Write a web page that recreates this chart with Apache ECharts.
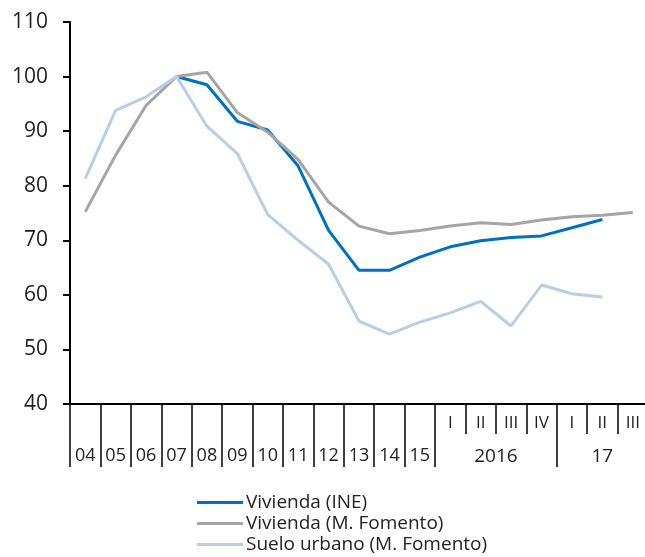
<!DOCTYPE html>
<html>
<head>
<meta charset="utf-8">
<script src="https://cdn.jsdelivr.net/npm/echarts@6/dist/echarts.min.js"></script>
<style>
  html, body { margin: 0; padding: 0; background: #fff; }
  #chart { width: 645px; height: 557px; }
</style>
</head>
<body>
<div id="chart"></div>
<script>
// categories: years 04-15, then quarters of 2016 and 2017
const categories = ["04", "05", "06", "07", "08", "09", "10", "11", "12", "13", "14", "15",
  "2016-I", "2016-II", "2016-III", "2016-IV", "2017-I", "2017-II", "2017-III"];
const tickLabels = ["04", "05", "06", "07", "08", "09", "10", "11", "12", "13", "14", "15",
  "I", "II", "III", "IV", "I", "II", "III"];
const yearCount = 12; // first 12 categories are whole years
const groupLabels = ["2016", "17"];
const groupStart = [12, 16];
const groupEnd = [16, 19];

const viviendaINE = [null, null, null, 100, 98.5, 91.8, 90.2, 83.6, 71.8, 64.5, 64.5, 66.9,
  68.8, 69.9, 70.5, 70.8, 72.3, 73.8, null];
const viviendaFomento = [75.2, 85.6, 94.7, 100, 100.8, 93.4, 89.8, 84.8, 77.0, 72.6, 71.2, 71.8,
  72.6, 73.2, 72.9, 73.7, 74.3, 74.6, 75.1];
const sueloUrbano = [81.3, 93.8, 96.3, 100, 90.9, 85.9, 74.7, 70.0, 65.6, 55.2, 52.8, 55.0,
  56.7, 58.8, 54.3, 61.8, 60.2, 59.6, null];

const yTicks = { min: 40, max: 110, interval: 10 };

const fontFam = "'Open Sans', 'DejaVu Sans', sans-serif";
const txtColor = "#222";

let myChart = echarts.init(document.getElementById("chart"));

// long separators at year starts and group starts, short ones between quarters
const isLongTick = (i) => i <= yearCount || groupStart.indexOf(i) >= 0;

let option = {
  animation: false,
  grid: {
    left: 70,
    right: -3,
    top: 22,
    bottom: 153,
    containLabel: false,
    outerBoundsMode: "none",
  },
  legend: {
    orient: "vertical",
    left: 197,
    top: 493,
    height: 64,
    padding: 0,
    icon: "rect",
    itemWidth: 46,
    itemHeight: 3,
    itemGap: 2,
    textStyle: {
      fontFamily: fontFam,
      fontSize: 19,
      lineHeight: 19,
      color: txtColor,
      padding: [0, 0, 0, -2],
    },
    data: ["Vivienda (INE)", "Vivienda (M. Fomento)", "Suelo urbano (M. Fomento)"],
  },
  xAxis: [
    {
      type: "category",
      position: "bottom",
      data: categories,
      boundaryGap: true,
      axisLine: { show: true, lineStyle: { color: "#000", width: 2 } },
      axisTick: {
        show: true,
        length: 63,
        interval: (i) => isLongTick(i),
        lineStyle: { color: "#000", width: 1.5 },
      },
      axisLabel: {
        interval: 0,
        margin: 43,
        fontFamily: fontFam,
        fontSize: 18,
        color: txtColor,
        formatter: (v, i) => (i < yearCount ? tickLabels[i] : ""),
      },
    },
    {
      type: "category",
      position: "bottom",
      data: categories,
      boundaryGap: true,
      axisLine: { show: false },
      axisTick: {
        show: true,
        length: 30,
        interval: (i) => !isLongTick(i),
        lineStyle: { color: "#000", width: 1.5 },
      },
      axisLabel: {
        interval: 0,
        margin: 11,
        fontFamily: fontFam,
        fontSize: 17,
        color: txtColor,
        formatter: (v, i) => (i >= yearCount ? tickLabels[i] : ""),
      },
    },
    {
      type: "value",
      position: "bottom",
      min: 0,
      max: categories.length,
      interval: 0.5,
      axisLine: { show: false },
      axisTick: { show: false },
      splitLine: { show: false },
      axisLabel: {
        margin: 43,
        fontFamily: fontFam,
        fontSize: 19,
        color: txtColor,
        showMinLabel: true,
        showMaxLabel: true,
        formatter: (v) => {
          for (let g = 0; g < groupLabels.length; g++) {
            if ((groupStart[g] + groupEnd[g]) / 2 === v) return groupLabels[g];
          }
          return "";
        },
      },
    },
  ],
  yAxis: {
    type: "value",
    min: yTicks.min,
    max: yTicks.max,
    interval: yTicks.interval,
    axisLine: { show: true, lineStyle: { color: "#000", width: 2 } },
    axisTick: { show: true, length: 7, lineStyle: { color: "#000", width: 2 } },
    splitLine: { show: false },
    axisLabel: {
      margin: 22,
      fontFamily: fontFam,
      fontSize: 21,
      color: txtColor,
    },
  },
  series: [
    {
      name: "Vivienda (INE)",
      type: "line",
      data: viviendaINE,
      symbol: "none",
      color: "#0070c0",
      lineStyle: { width: 3, color: "#0070c0" },
    },
    {
      name: "Vivienda (M. Fomento)",
      type: "line",
      data: viviendaFomento,
      symbol: "none",
      color: "#a5a5a5",
      lineStyle: { width: 3, color: "#a5a5a5" },
    },
    {
      name: "Suelo urbano (M. Fomento)",
      type: "line",
      data: sueloUrbano,
      symbol: "none",
      color: "#b8cde6",
      lineStyle: { width: 3, color: "#b8cde6" },
    },
  ],
};
myChart.setOption(option, true);
</script>
</body>
</html>
